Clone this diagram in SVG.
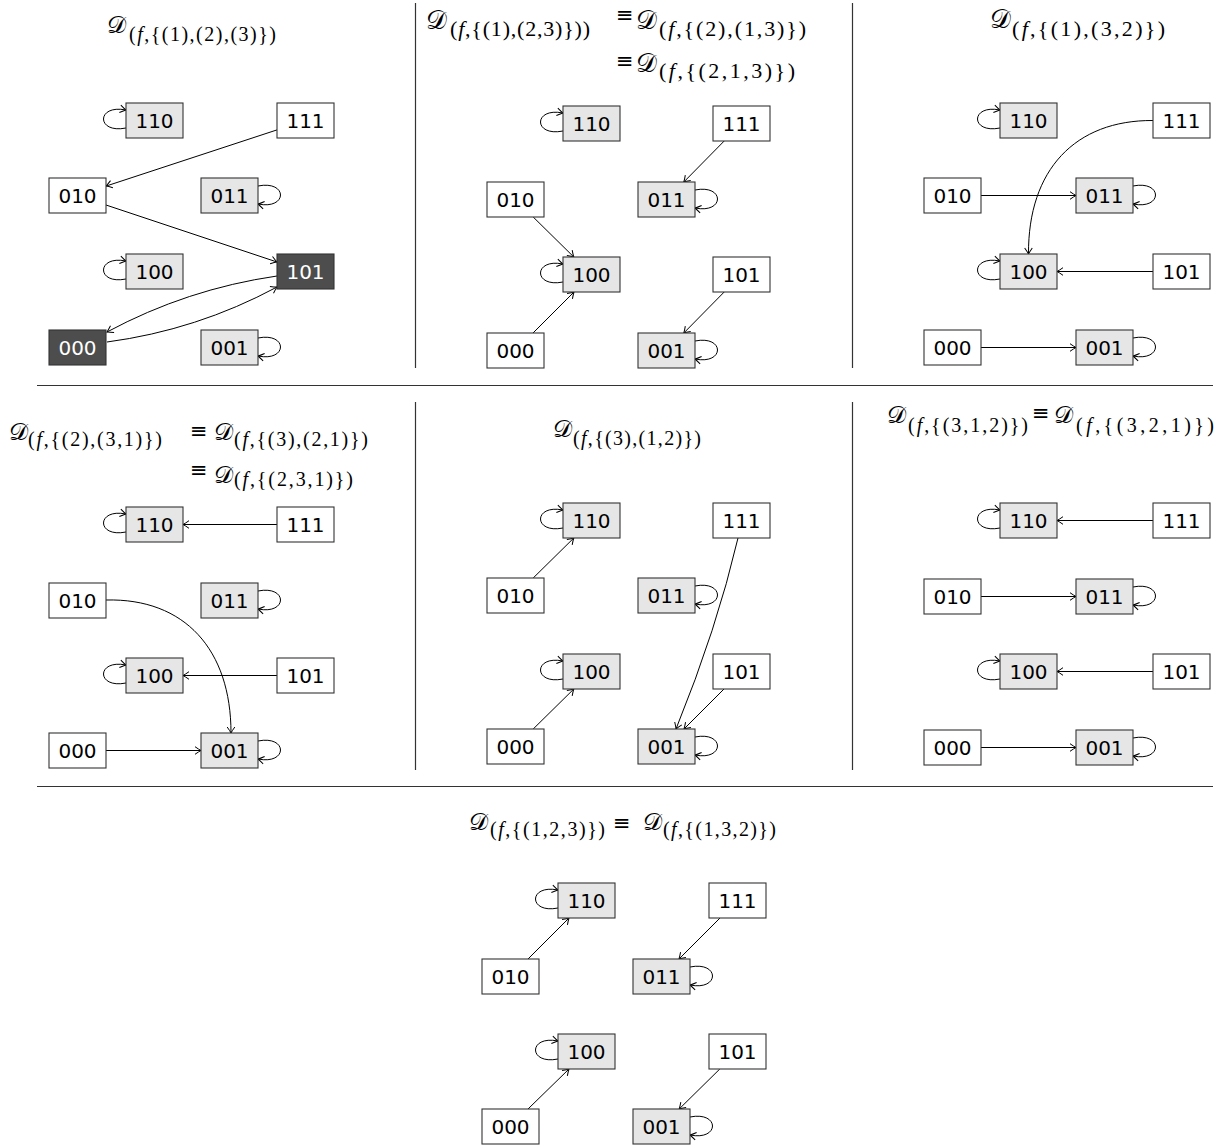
<svg xmlns="http://www.w3.org/2000/svg" width="1228" height="1148" viewBox="0 0 1228 1148">
<style>
.n rect{stroke:#333;stroke-width:1.1}
.w{fill:#fff}.g{fill:#e6e6e6}.d{fill:#4d4d4d}
.n text{font-family:"DejaVu Sans","Liberation Sans",sans-serif;font-size:20px;text-anchor:middle;fill:#000}
.n text.wt{fill:#fff}
#edges path,#edges line{fill:none;stroke:#000;stroke-width:1}
.sep{stroke:#333;stroke-width:1.2}
.D{font-family:"DejaVu Serif","DejaVu Sans","Noto Sans",serif;font-style:normal;fill:#000}
.s{font-family:"Liberation Serif","DejaVu Serif",serif;fill:#000}
.eq{font-family:"DejaVu Sans","DejaVu Serif",sans-serif;font-size:21px;fill:#000}
</style>
<defs>
<marker id="a" markerWidth="12" markerHeight="12" refX="0" refY="0" viewBox="-8 -6 10 12" orient="auto" markerUnits="userSpaceOnUse">
<path d="M-6,-3.8 Q-2,-1 0,0 Q-2,1 -6,3.8" fill="none" stroke="#000" stroke-width="1"/>
</marker>
</defs>
<rect width="1228" height="1148" fill="#fff"/>
<g id="separators">
<line class="sep" x1="37" y1="385.5" x2="1213" y2="385.5"/>
<line class="sep" x1="37" y1="786.5" x2="1213" y2="786.5"/>
<line class="sep" x1="415.5" y1="3" x2="415.5" y2="368"/>
<line class="sep" x1="852.5" y1="3" x2="852.5" y2="368"/>
<line class="sep" x1="415.5" y1="402" x2="415.5" y2="770"/>
<line class="sep" x1="852.5" y1="402" x2="852.5" y2="770"/>
</g>
<g id="titles">
<text class="D" x="107" y="33" font-size="24">𝒟</text><text class="s" x="129" y="41" font-size="20" textLength="147">(<tspan font-style="italic">f</tspan>,{(1),(2),(3)})</text>
<text class="D" x="426" y="29" font-size="26">𝒟</text><text class="s" x="450" y="36" font-size="22" textLength="140">(<tspan font-style="italic">f</tspan>,{(1),(2,3)}))</text>
<text class="eq" x="616" y="21.5">≡</text>
<text class="D" x="636" y="29" font-size="26">𝒟</text><text class="s" x="659" y="36" font-size="22" textLength="147">(<tspan font-style="italic">f</tspan>,{(2),(1,3)})</text>
<text class="eq" x="616" y="68">≡</text>
<text class="D" x="636" y="72" font-size="26">𝒟</text><text class="s" x="659" y="78" font-size="22" textLength="136">(<tspan font-style="italic">f</tspan>,{(2,1,3)})</text>
<text class="D" x="990" y="28" font-size="26">𝒟</text><text class="s" x="1012" y="36" font-size="22" textLength="153">(<tspan font-style="italic">f</tspan>,{(1),(3,2)})</text>
<text class="D" x="9" y="440" font-size="24">𝒟</text><text class="s" x="28" y="446" font-size="20" textLength="134">(<tspan font-style="italic">f</tspan>,{(2),(3,1)})</text>
<text class="eq" x="190" y="437.5">≡</text>
<text class="D" x="214" y="440" font-size="24">𝒟</text><text class="s" x="234" y="446" font-size="20" textLength="134">(<tspan font-style="italic">f</tspan>,{(3),(2,1)})</text>
<text class="eq" x="190" y="476.5">≡</text>
<text class="D" x="214" y="483" font-size="24">𝒟</text><text class="s" x="234" y="486" font-size="20" textLength="119">(<tspan font-style="italic">f</tspan>,{(2,3,1)})</text>
<text class="D" x="553" y="437" font-size="24">𝒟</text><text class="s" x="573" y="445" font-size="20" textLength="128">(<tspan font-style="italic">f</tspan>,{(3),(1,2)})</text>
<text class="D" x="887" y="423" font-size="24">𝒟</text><text class="s" x="908" y="432" font-size="20" textLength="120">(<tspan font-style="italic">f</tspan>,{(3,1,2)})</text>
<text class="eq" x="1032" y="420">≡</text>
<text class="D" x="1054" y="423" font-size="24">𝒟</text><text class="s" x="1076" y="432" font-size="20" textLength="138">(<tspan font-style="italic">f</tspan>,{(3,2,1)})</text>
<text class="D" x="469" y="830" font-size="24">𝒟</text><text class="s" x="490" y="836" font-size="20" textLength="115">(<tspan font-style="italic">f</tspan>,{(1,2,3)})</text>
<text class="eq" x="613" y="829.5">≡</text>
<text class="D" x="643" y="830" font-size="24">𝒟</text><text class="s" x="663" y="836" font-size="20" textLength="113">(<tspan font-style="italic">f</tspan>,{(1,3,2)})</text>
</g>
<g id="edges" marker-end="url(#a)">
<!-- P1 -->
<path d="M126,128 C96,134 96,104 126,110"/>
<path d="M258,186 C288,180 288,210 258,204"/>
<path d="M126,279 C96,285 96,255 126,261"/>
<path d="M258,338 C288,332 288,362 258,356"/>
<line x1="277" y1="129.9" x2="106" y2="186.1"/>
<line x1="106" y1="205" x2="277" y2="262"/>
<path d="M277,276 Q187,289 107,332"/>
<path d="M107,342 Q197,330 277,287"/>
<!-- P2 -->
<path d="M563,131 C533,137 533,107 563,113"/>
<path d="M695,190 C725,184 725,214 695,208"/>
<path d="M563,282 C533,288 533,258 563,264"/>
<path d="M695,341 C725,335 725,365 695,359"/>
<line x1="724.2" y1="141" x2="683.8" y2="182"/>
<line x1="533.2" y1="217" x2="573.8" y2="257"/>
<line x1="533" y1="333" x2="574" y2="292"/>
<line x1="724.2" y1="292" x2="683.8" y2="333"/>
<!-- P3 -->
<path d="M1000,128 C970,134 970,104 1000,110"/>
<path d="M1133,186 C1163,180 1163,210 1133,204"/>
<path d="M1000,279 C970,285 970,255 1000,261"/>
<path d="M1133,338 C1163,332 1163,362 1133,356"/>
<path d="M1153,120.5 C1075,120 1028,170 1028.5,254"/>
<line x1="981" y1="195.5" x2="1076" y2="195.5"/>
<line x1="1153" y1="271.5" x2="1057" y2="271.5"/>
<line x1="981" y1="347.5" x2="1076" y2="347.5"/>
<!-- P4 -->
<path d="M126,532 C96,538 96,508 126,514"/>
<path d="M258,591 C288,585 288,615 258,609"/>
<path d="M126,683 C96,689 96,659 126,665"/>
<path d="M258,741 C288,735 288,765 258,759"/>
<line x1="277" y1="524.5" x2="183" y2="524.5"/>
<path d="M106,600 C185,598 231,650 231,733"/>
<line x1="277" y1="675.5" x2="183" y2="675.5"/>
<line x1="106" y1="750.5" x2="201" y2="750.5"/>
<!-- P5 -->
<path d="M563,528 C533,534 533,504 563,510"/>
<path d="M695,586 C725,580 725,610 695,604"/>
<path d="M563,679 C533,685 533,655 563,661"/>
<path d="M695,737 C725,731 725,761 695,755"/>
<line x1="533.2" y1="578" x2="573.8" y2="538"/>
<line x1="533.2" y1="729" x2="573.8" y2="689"/>
<line x1="724" y1="689" x2="684" y2="729"/>
<path d="M738,538 Q717,628 676,729"/>
<!-- P6 -->
<path d="M1000,528 C970,534 970,504 1000,510"/>
<path d="M1133,587 C1163,581 1163,611 1133,605"/>
<path d="M1000,679 C970,685 970,655 1000,661"/>
<path d="M1133,738 C1163,732 1163,762 1133,756"/>
<line x1="1153" y1="520.5" x2="1057" y2="520.5"/>
<line x1="981" y1="596.5" x2="1076" y2="596.5"/>
<line x1="1153" y1="671.5" x2="1057" y2="671.5"/>
<line x1="981" y1="747.5" x2="1076" y2="747.5"/>
<!-- P7 -->
<path d="M558,908 C528,914 528,884 558,890"/>
<path d="M690,967 C720,961 720,991 690,985"/>
<path d="M558,1059 C528,1065 528,1035 558,1041"/>
<path d="M690,1117 C720,1111 720,1141 690,1135"/>
<line x1="528" y1="959" x2="569" y2="918"/>
<line x1="720" y1="918" x2="679" y2="959"/>
<line x1="528" y1="1109" x2="569" y2="1069"/>
<line x1="719.8" y1="1069" x2="679.2" y2="1109"/>
</g>
<g id="nodes">
<!-- P1 -->
<g id="p1-110" class="n"><rect class="g" x="126" y="103" width="57" height="35"/><text x="154.5" y="128">110</text></g>
<g id="p1-111" class="n"><rect class="w" x="277" y="103" width="57" height="35"/><text x="305.5" y="128">111</text></g>
<g id="p1-010" class="n"><rect class="w" x="49" y="178" width="57" height="35"/><text x="77.5" y="203">010</text></g>
<g id="p1-011" class="n"><rect class="g" x="201" y="178" width="57" height="35"/><text x="229.5" y="203">011</text></g>
<g id="p1-100" class="n"><rect class="g" x="126" y="254" width="57" height="35"/><text x="154.5" y="279">100</text></g>
<g id="p1-101" class="n"><rect class="d" x="277" y="254" width="57" height="35"/><text class="wt" x="305.5" y="279">101</text></g>
<g id="p1-000" class="n"><rect class="d" x="49" y="330" width="57" height="35"/><text class="wt" x="77.5" y="355">000</text></g>
<g id="p1-001" class="n"><rect class="g" x="201" y="330" width="57" height="35"/><text x="229.5" y="355">001</text></g>
<!-- P2 -->
<g id="p2-110" class="n"><rect class="g" x="563" y="106" width="57" height="35"/><text x="591.5" y="131">110</text></g>
<g id="p2-111" class="n"><rect class="w" x="713" y="106" width="57" height="35"/><text x="741.5" y="131">111</text></g>
<g id="p2-010" class="n"><rect class="w" x="487" y="182" width="57" height="35"/><text x="515.5" y="207">010</text></g>
<g id="p2-011" class="n"><rect class="g" x="638" y="182" width="57" height="35"/><text x="666.5" y="207">011</text></g>
<g id="p2-100" class="n"><rect class="g" x="563" y="257" width="57" height="35"/><text x="591.5" y="282">100</text></g>
<g id="p2-101" class="n"><rect class="w" x="713" y="257" width="57" height="35"/><text x="741.5" y="282">101</text></g>
<g id="p2-000" class="n"><rect class="w" x="487" y="333" width="57" height="35"/><text x="515.5" y="358">000</text></g>
<g id="p2-001" class="n"><rect class="g" x="638" y="333" width="57" height="35"/><text x="666.5" y="358">001</text></g>
<!-- P3 -->
<g id="p3-110" class="n"><rect class="g" x="1000" y="103" width="57" height="35"/><text x="1028.5" y="128">110</text></g>
<g id="p3-111" class="n"><rect class="w" x="1153" y="103" width="57" height="35"/><text x="1181.5" y="128">111</text></g>
<g id="p3-010" class="n"><rect class="w" x="924" y="178" width="57" height="35"/><text x="952.5" y="203">010</text></g>
<g id="p3-011" class="n"><rect class="g" x="1076" y="178" width="57" height="35"/><text x="1104.5" y="203">011</text></g>
<g id="p3-100" class="n"><rect class="g" x="1000" y="254" width="57" height="35"/><text x="1028.5" y="279">100</text></g>
<g id="p3-101" class="n"><rect class="w" x="1153" y="254" width="57" height="35"/><text x="1181.5" y="279">101</text></g>
<g id="p3-000" class="n"><rect class="w" x="924" y="330" width="57" height="35"/><text x="952.5" y="355">000</text></g>
<g id="p3-001" class="n"><rect class="g" x="1076" y="330" width="57" height="35"/><text x="1104.5" y="355">001</text></g>
<!-- P4 -->
<g id="p4-110" class="n"><rect class="g" x="126" y="507" width="57" height="35"/><text x="154.5" y="532">110</text></g>
<g id="p4-111" class="n"><rect class="w" x="277" y="507" width="57" height="35"/><text x="305.5" y="532">111</text></g>
<g id="p4-010" class="n"><rect class="w" x="49" y="583" width="57" height="35"/><text x="77.5" y="608">010</text></g>
<g id="p4-011" class="n"><rect class="g" x="201" y="583" width="57" height="35"/><text x="229.5" y="608">011</text></g>
<g id="p4-100" class="n"><rect class="g" x="126" y="658" width="57" height="35"/><text x="154.5" y="683">100</text></g>
<g id="p4-101" class="n"><rect class="w" x="277" y="658" width="57" height="35"/><text x="305.5" y="683">101</text></g>
<g id="p4-000" class="n"><rect class="w" x="49" y="733" width="57" height="35"/><text x="77.5" y="758">000</text></g>
<g id="p4-001" class="n"><rect class="g" x="201" y="733" width="57" height="35"/><text x="229.5" y="758">001</text></g>
<!-- P5 -->
<g id="p5-110" class="n"><rect class="g" x="563" y="503" width="57" height="35"/><text x="591.5" y="528">110</text></g>
<g id="p5-111" class="n"><rect class="w" x="713" y="503" width="57" height="35"/><text x="741.5" y="528">111</text></g>
<g id="p5-010" class="n"><rect class="w" x="487" y="578" width="57" height="35"/><text x="515.5" y="603">010</text></g>
<g id="p5-011" class="n"><rect class="g" x="638" y="578" width="57" height="35"/><text x="666.5" y="603">011</text></g>
<g id="p5-100" class="n"><rect class="g" x="563" y="654" width="57" height="35"/><text x="591.5" y="679">100</text></g>
<g id="p5-101" class="n"><rect class="w" x="713" y="654" width="57" height="35"/><text x="741.5" y="679">101</text></g>
<g id="p5-000" class="n"><rect class="w" x="487" y="729" width="57" height="35"/><text x="515.5" y="754">000</text></g>
<g id="p5-001" class="n"><rect class="g" x="638" y="729" width="57" height="35"/><text x="666.5" y="754">001</text></g>
<!-- P6 -->
<g id="p6-110" class="n"><rect class="g" x="1000" y="503" width="57" height="35"/><text x="1028.5" y="528">110</text></g>
<g id="p6-111" class="n"><rect class="w" x="1153" y="503" width="57" height="35"/><text x="1181.5" y="528">111</text></g>
<g id="p6-010" class="n"><rect class="w" x="924" y="579" width="57" height="35"/><text x="952.5" y="604">010</text></g>
<g id="p6-011" class="n"><rect class="g" x="1076" y="579" width="57" height="35"/><text x="1104.5" y="604">011</text></g>
<g id="p6-100" class="n"><rect class="g" x="1000" y="654" width="57" height="35"/><text x="1028.5" y="679">100</text></g>
<g id="p6-101" class="n"><rect class="w" x="1153" y="654" width="57" height="35"/><text x="1181.5" y="679">101</text></g>
<g id="p6-000" class="n"><rect class="w" x="924" y="730" width="57" height="35"/><text x="952.5" y="755">000</text></g>
<g id="p6-001" class="n"><rect class="g" x="1076" y="730" width="57" height="35"/><text x="1104.5" y="755">001</text></g>
<!-- P7 -->
<g id="p7-110" class="n"><rect class="g" x="558" y="883" width="57" height="35"/><text x="586.5" y="908">110</text></g>
<g id="p7-111" class="n"><rect class="w" x="709" y="883" width="57" height="35"/><text x="737.5" y="908">111</text></g>
<g id="p7-010" class="n"><rect class="w" x="482" y="959" width="57" height="35"/><text x="510.5" y="984">010</text></g>
<g id="p7-011" class="n"><rect class="g" x="633" y="959" width="57" height="35"/><text x="661.5" y="984">011</text></g>
<g id="p7-100" class="n"><rect class="g" x="558" y="1034" width="57" height="35"/><text x="586.5" y="1059">100</text></g>
<g id="p7-101" class="n"><rect class="w" x="709" y="1034" width="57" height="35"/><text x="737.5" y="1059">101</text></g>
<g id="p7-000" class="n"><rect class="w" x="482" y="1109" width="57" height="35"/><text x="510.5" y="1134">000</text></g>
<g id="p7-001" class="n"><rect class="g" x="633" y="1109" width="57" height="35"/><text x="661.5" y="1134">001</text></g>
</g>
</svg>
